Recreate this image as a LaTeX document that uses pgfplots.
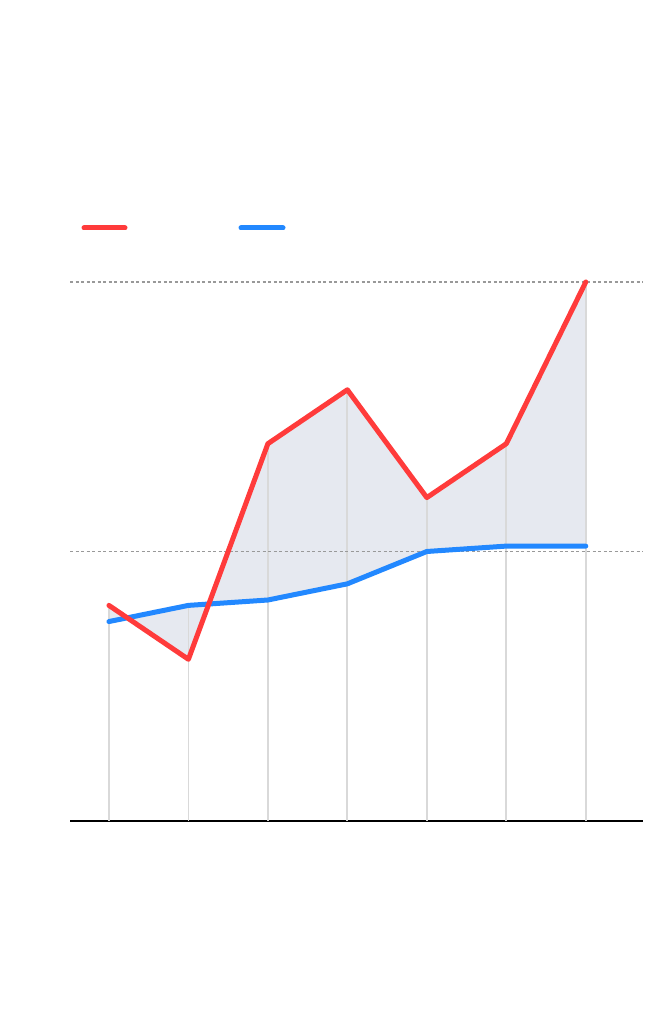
\documentclass[border=0pt]{standalone}
\usepackage{pgfplots}
\pgfplotsset{compat=1.18}
\usepgfplotslibrary{fillbetween}
\definecolor{cred}{HTML}{FF3B3B}
\definecolor{cblue}{HTML}{2288FF}
\definecolor{cfill}{HTML}{E6E9F0}
\definecolor{cvert}{HTML}{D9D9D9}
\definecolor{cdash}{HTML}{999999}
\begin{document}
\begin{tikzpicture}[x=1pt,y=1pt]
\path (0,0) rectangle (660,1020);
\begin{axis}[
  at={(70pt,199pt)}, anchor=south west,
  scale only axis, width=573pt, height=539pt,
  xmin=-0.49, xmax=6.72, ymin=0, ymax=100,
  axis x line=bottom, axis y line=none,
  axis line style={-, black, line width=1.5pt},
  xtick=\empty, ytick=\empty,
  clip=false,
]
\addplot[name path=red, draw=none] coordinates {(0,40) (1,30) (2,70) (3,80) (4,60) (5,70) (6,100)};
\addplot[name path=blue, draw=none] coordinates {(0,37) (1,40) (2,41) (3,44) (4,50) (5,51) (6,51)};
\addplot[cfill] fill between[of=red and blue];
\addplot[ycomb, cvert, line width=1.8pt, mark=none] coordinates {(0,40) (1,40) (2,70) (3,80) (4,60) (5,70) (6,100)};
\addplot[cdash, line width=1.3pt, dash pattern=on 3pt off 2.5pt] coordinates {(-0.49,50) (6.72,50)};
\addplot[cdash, line width=1.3pt, dash pattern=on 3pt off 2.5pt] coordinates {(-0.49,100) (6.72,100)};
\addplot[cblue, line width=5pt, line join=round, line cap=round] coordinates {(0,37) (1,40) (2,41) (3,44) (4,50) (5,51) (6,51)};
\addplot[cred, line width=5pt, line join=round, line cap=round] coordinates {(0,40) (1,30) (2,70) (3,80) (4,60) (5,70) (6,100)};
\end{axis}
\draw[cred, line width=5pt, line cap=round] (84,792) -- (125,792);
\draw[cblue, line width=5pt, line cap=round] (241,792) -- (283,792);
\end{tikzpicture}
\end{document}
